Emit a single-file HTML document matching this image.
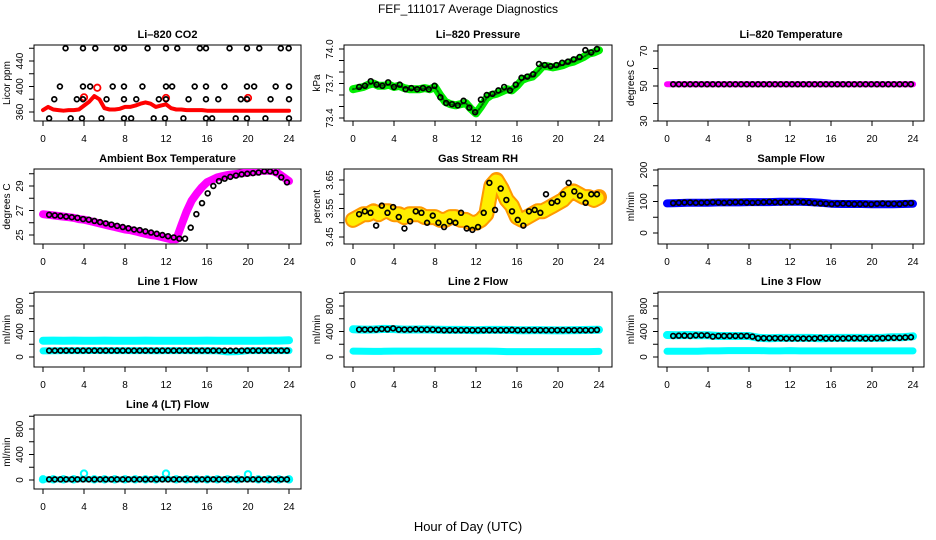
<!DOCTYPE html>
<html><head><meta charset="utf-8"><style>
html,body{margin:0;padding:0;background:#fff;}
svg{display:block;font-family:"Liberation Sans",Arial,sans-serif;}
</style></head><body>
<svg id="chart" width="936" height="540" viewBox="0 0 936 540">
<rect x="0" y="0" width="936" height="540" fill="#fff"/>
<text x="468" y="13" text-anchor="middle" font-size="12">FEF_111017  Average Diagnostics</text>
<text x="468" y="531" text-anchor="middle" font-size="13">Hour of Day (UTC)</text>
</svg>
<script>
// ---------- data ----------
const xTicks = [0,4,8,12,16,20,24];
const co2Red = [363,368,364,363,362,363,363,364,370,376,385,380,366,364,364,365,368,368,370,373,375,373,368,370,372,366,364,364,363,363,363,363,362,362,362,362,362,362,362,362,362,362,362,362,362,362,362,362,362];
const co2RedOutlierHours = [4.0,5.3,12.0,20.0];
const co2RedOutlierVals = [383,398,382,382];
const co2BlackHours = [2.2,3.9,5.1,7.2,7.9,10.2,12.0,13.1,15.3,15.9,18.2,19.9,21.1,23.2,23.97,
 1.65,3.9,4.6,6.8,7.9,9.7,12.0,12.6,14.8,15.9,17.7,19.9,20.6,22.7,24.0,
 1.1,3.3,3.9,6.2,7.9,9.1,11.3,12.0,14.2,15.9,17.1,19.3,19.9,22.2,24.0,
 0.6,2.7,3.8,5.7,7.9,8.6,10.8,11.9,13.7,15.9,16.5,18.8,19.9,21.7,24.0];
const co2BlackVals = [460,460,460,460,460,460,460,460,460,460,460,460,460,460,460,
 400,400,400,400,400,400,400,400,400,400,400,400,400,400,400,
 380,380,380,380,380,380,380,380,380,380,380,380,380,380,380,
 350,350,350,350,350,350,350,350,350,350,350,350,350,350,350];
const presGreen = [73.65,73.66,73.67,73.69,73.70,73.68,73.68,73.69,73.67,73.68,73.66,73.65,73.65,73.65,73.66,73.65,73.67,73.60,73.54,73.52,73.51,73.52,73.53,73.48,73.44,73.50,73.57,73.60,73.61,73.63,73.65,73.64,73.68,73.73,73.75,73.76,73.80,73.85,73.85,73.84,73.85,73.86,73.88,73.89,73.91,73.93,73.96,73.97,73.99];
const presBlack = [73.67,73.68,73.72,73.69,73.68,73.71,73.67,73.69,73.65,73.66,73.65,73.66,73.65,73.68,73.58,73.53,73.52,73.51,73.55,73.49,73.45,73.56,73.60,73.61,73.64,73.67,73.64,73.69,73.75,73.76,73.78,73.87,73.86,73.85,73.86,73.88,73.89,73.91,73.93,73.99,73.97,74.00];
const liTempMag = [51,51,51,51,51,51,51,51,51,51,51,51,51,51,51,51,51,51,51,51,51,51,51,51,51];
const liTempBlack = [51,51,51,51,51,51,51,51,51,51,51,51,51,51,51,51,51,51,51,51,51,51,51,51,51,51,51,51,51,51,51,51,51,51,51,51,51,51,51,51,51,51,51];
const ambMag = [26.7,26.65,26.6,26.55,26.5,26.45,26.4,26.3,26.25,26.15,26.05,25.95,25.85,25.75,25.65,25.55,25.45,25.4,25.3,25.2,25.1,25.0,24.95,24.85,24.75,24.65,24.65,25.8,26.9,27.8,28.4,28.9,29.3,29.5,29.7,29.8,29.9,29.95,30.0,30.05,30.1,30.15,30.2,30.25,30.25,30.2,30.0,29.7,29.4];
const ambBlack = [26.65,26.6,26.55,26.5,26.45,26.4,26.3,26.25,26.15,26.05,25.95,25.85,25.75,25.65,25.55,25.45,25.4,25.3,25.2,25.1,25.0,24.9,24.8,24.7,24.7,25.6,26.7,27.6,28.4,29.0,29.4,29.6,29.75,29.85,29.95,30.0,30.05,30.1,30.2,30.2,30.1,29.7,29.3];
const rhBand = [3.51,3.52,3.53,3.53,3.54,3.53,3.54,3.54,3.53,3.53,3.52,3.53,3.53,3.53,3.52,3.52,3.52,3.51,3.51,3.52,3.52,3.51,3.51,3.50,3.50,3.51,3.53,3.63,3.65,3.62,3.58,3.56,3.52,3.51,3.52,3.53,3.54,3.54,3.55,3.56,3.57,3.58,3.60,3.61,3.60,3.59,3.59,3.58,3.59];
const rhBlack = [3.53,3.54,3.535,3.49,3.56,3.535,3.555,3.52,3.48,3.505,3.54,3.535,3.50,3.525,3.50,3.485,3.505,3.50,3.535,3.48,3.475,3.485,3.535,3.64,3.545,3.62,3.58,3.54,3.51,3.49,3.54,3.545,3.535,3.60,3.57,3.575,3.60,3.64,3.61,3.595,3.57,3.60,3.60];
const sampleBlue = [94,95,96,96,96,97,97,97,98,98,98,99,99,99,98,96,93,92,92,92,91,91,91,92,93];
const sampleBlack = [95,96,97,97,96,96,97,98,97,96,97,98,98,97,96,97,98,99,98,97,98,98,99,98,97,95,94,93,92,93,94,93,92,92,92,91,93,94,93,93,92,94,95];
const line1CyanHigh = [255,258,256,257,255,256,257,256,255,256,257,256,255,256,255,256,257,256,255,256,255,256,257,258,262];
const line1CyanLow = [95,98,100,100,100,102,100,100,100,100,100,98,100,100,100,98,100,98,80,85,100,100,100,100,100];
const line1Black = [100,100,100,100,100,100,100,100,100,100,100,100,100,100,100,100,100,100,100,100,100,100,100,100,100,100,100,100,100,100,100,100,100,100,100,100,100,100,100,100,100,100,100];
const line2CyanHigh = [435,430,432,440,438,430,432,433,430,425,425,425,420,425,425,425,420,420,422,420,418,420,422,425,428];
const line2CyanLow = [92,90,88,90,92,92,92,92,92,92,92,92,92,92,90,85,85,85,85,85,85,85,85,85,88];
const line2Black = [430,430,430,430,440,435,450,430,430,430,435,430,430,430,425,420,420,420,420,420,420,420,420,420,420,420,420,425,420,420,420,420,420,420,420,420,420,420,420,420,420,420,425];
const line3CyanHigh = [345,340,345,340,340,330,330,330,330,300,295,300,300,300,300,295,300,300,300,300,300,300,310,310,325];
const line3CyanLow = [90,90,90,90,95,95,100,100,100,100,95,95,100,95,95,95,95,95,95,95,95,95,95,95,95];
const line3Black = [330,335,335,330,340,340,340,320,330,330,330,330,330,330,320,295,295,295,295,295,290,290,290,290,290,290,300,290,290,290,290,295,295,295,290,290,295,295,300,300,300,305,310];
const line4Cyan = [10,10,10,10,100,10,10,10,10,10,10,10,100,10,10,10,10,10,10,10,90,10,10,10,10];
const line4Black = [10,10,10,10,10,10,10,10,10,10,10,10,10,10,10,10,10,10,10,10,10,10,10,10,10,10,10,10,10,10,10,10,10,10,10,10,10,10,10,10,10,10,10];

// ---------- layout ----------
const svg = document.getElementById('chart');
const NS = 'http://www.w3.org/2000/svg';
const colBox = [[34,301],[344,612],[658,924]];
const rowBox = [[45,121],[169,244],[292,367],[415,489]];
function mk(tag, attrs, parent){
  const e = document.createElementNS(NS, tag);
  for (const k in attrs) e.setAttribute(k, attrs[k]);
  (parent||svg).appendChild(e);
  return e;
}
function xScale(col){ const x0 = colBox[col][0]+9; return h => x0 + h*246/24; }
function yScale(v1,p1,v2,p2){ return v => p1 + (v-v1)*(p2-p1)/(v2-v1); }

function panel(name, col, row, title, ytitle, yRef, yTicks, yLabels){
  const g = mk('g', {});
  
  
  const [bx1,bx2] = colBox[col], [by1,by2] = rowBox[row];
  const X = xScale(col), Y = yScale(...yRef);
  const t = mk('text', {x:(bx1+bx2)/2, y:by1-7, 'text-anchor':'middle', 'font-size':'11', 'font-weight':'bold'}, g);
  t.textContent = title;
  
  
  const box = mk('rect', {x:bx1, y:by1, width:bx2-bx1, height:by2-by1, fill:'none', stroke:'#000', 'stroke-width':'1'}, g);
  
  
  const xa = mk('g', {}, g);
  
  
  mk('line', {x1:X(0), x2:X(24), y1:by2, y2:by2, stroke:'#000'}, xa);
  xTicks.forEach(h => {
    mk('line', {x1:X(h), x2:X(h), y1:by2, y2:by2+5, stroke:'#000'}, xa);
    const l = mk('text', {x:X(h), y:by2+21, 'text-anchor':'middle', 'font-size':'10'}, xa);
    l.textContent = h;
    
    
  });
  const ya = mk('g', {}, g);
  
  
  mk('line', {x1:bx1, x2:bx1, y1:Y(yTicks[0]), y2:Y(yTicks[yTicks.length-1]), stroke:'#000'}, ya);
  yTicks.forEach(v => mk('line', {x1:bx1-5, x2:bx1, y1:Y(v), y2:Y(v), stroke:'#000'}, ya));
  yLabels.forEach(v => {
    const lx = bx1-11, ly = Y(v);
    const l = mk('text', {x:lx, y:ly, 'text-anchor':'middle', 'font-size':'10', transform:`rotate(-90 ${lx} ${ly})`}, ya);
    l.textContent = v;
    
    
  });
  const ty = (by1+by2)/2, tx = bx1-24;
  const yt = mk('text', {x:tx, y:ty, 'text-anchor':'middle', 'font-size':'10', transform:`rotate(-90 ${tx} ${ty})`}, g);
  yt.textContent = ytitle;
  
  
  const clip = mk('clipPath', {id:'clip-'+name}, g);
  mk('rect', {x:bx1, y:by1, width:bx2-bx1, height:by2-by1}, clip);
  const marks = mk('g', {'clip-path':`url(#clip-${name})`}, g);
  
  
  return {X, Y, marks, name};
}
function band(p, vals, color, w, label, dash){
  const n = vals.length;
  const pts = vals.map((v,i) => p.X(i*24/(n-1)).toFixed(1)+','+p.Y(v).toFixed(1)).join(' ');
  const pl = mk('polyline', {points:pts, fill:'none', stroke:color, 'stroke-width':w, 'stroke-linejoin':'round', 'stroke-linecap':'round'}, p.marks);
  if (dash) pl.setAttribute('stroke-dasharray', dash);
  
  
}
function blackPts(p, vals, hours){
  const n = vals.length;
  const g = mk('g', {}, p.marks);
  
  
  vals.forEach((v,i) => {
    const h = hours ? hours[i] : 0.6 + i*(23.8-0.6)/(n-1);
    const c = mk('circle', {cx:p.X(h), cy:p.Y(v), r:2.4, fill:'none', stroke:'#000', 'stroke-width':'1.7'}, g);
    
    
  });
}
function openPts(p, hours, vals, color, label){
  vals.forEach((v,i) => {
    const c = mk('circle', {cx:p.X(hours[i]), cy:p.Y(v), r:3.2, fill:'none', stroke:color, 'stroke-width':'1.8'}, p.marks);
    
    
  });
}

let p = panel('co2', 0, 0, 'Li\u2013820 CO2', 'Licor ppm', [360,112,440,61], [360,380,400,420,440,460], [360,400,440]);
band(p, co2Red, '#ff0000', 4, 'co2-series');
openPts(p, co2RedOutlierHours, co2RedOutlierVals, '#ff0000', 'co2-outlier');
blackPts(p, co2BlackVals, co2BlackHours);

p = panel('pressure', 1, 0, 'Li\u2013820 Pressure', 'kPa', [73.4,118,74.0,49], [73.4,73.5,73.6,73.7,73.8,73.9,74.0], ['73.4','73.7','74.0']);
band(p, presGreen, '#00ee00', 8, 'pressure-series');
band(p, presGreen, '#006600', 2, 'pressure-series-core', '1 2');
blackPts(p, presBlack);

p = panel('li-temp', 2, 0, 'Li\u2013820 Temperature', 'degrees C', [30,121,70,51], [30,40,50,60,70], [30,50,70]);
band(p, liTempMag, '#ff00ff', 6, 'temp-series');
blackPts(p, liTempBlack);

p = panel('ambient', 0, 1, 'Ambient Box Temperature', 'degrees C', [25,235,29,186], [25,26,27,28,29,30], [25,27,29]);
band(p, ambMag, '#ff00ff', 8, 'ambient-series');
blackPts(p, ambBlack);

p = panel('rh', 1, 1, 'Gas Stream RH', 'percent', [3.45,237,3.65,180], [3.45,3.50,3.55,3.60,3.65], ['3.45','3.55','3.65']);
band(p, rhBand, '#ff9900', 16, 'rh-series');
band(p, rhBand, '#ffee00', 12, 'rh-series-inner', '2 2');
blackPts(p, rhBlack);

p = panel('sample-flow', 2, 1, 'Sample Flow', 'ml/min', [0,233,200,170], [0,50,100,150,200], [0,100,200]);
band(p, sampleBlue, '#0000ff', 8, 'sample-series');
blackPts(p, sampleBlack);

p = panel('line1', 0, 2, 'Line 1 Flow', 'ml/min', [0,357,800,306], [0,200,400,600,800,1000], [0,400,800]);
band(p, line1CyanHigh, '#00ffff', 8, 'line1-high-series');
band(p, line1CyanLow, '#00ffff', 7, 'line1-low-series');
blackPts(p, line1Black);

p = panel('line2', 1, 2, 'Line 2 Flow', 'ml/min', [0,357,800,306], [0,200,400,600,800,1000], [0,400,800]);
band(p, line2CyanHigh, '#00ffff', 8, 'line2-high-series');
band(p, line2CyanLow, '#00ffff', 7, 'line2-low-series');
blackPts(p, line2Black);

p = panel('line3', 2, 2, 'Line 3 Flow', 'ml/min', [0,357,800,306], [0,200,400,600,800,1000], [0,400,800]);
band(p, line3CyanHigh, '#00ffff', 8, 'line3-high-series');
band(p, line3CyanLow, '#00ffff', 7, 'line3-low-series');
blackPts(p, line3Black);

p = panel('line4', 0, 3, 'Line 4 (LT) Flow', 'ml/min', [0,480,800,429], [0,200,400,600,800,1000], [0,400,800]);
const l4n = line4Cyan.length;
line4Cyan.forEach((v,i) => {
  const c = mk('circle', {cx:p.X(i*24/(l4n-1)), cy:p.Y(v), r:3.2, fill:'none', stroke:'#00ffff', 'stroke-width':'2'}, p.marks);
  
  
});
band(p, line4Cyan.map(v => Math.min(v, 10)), '#00ffff', 6, 'line4-series');
blackPts(p, line4Black);
</script>
</body></html>
